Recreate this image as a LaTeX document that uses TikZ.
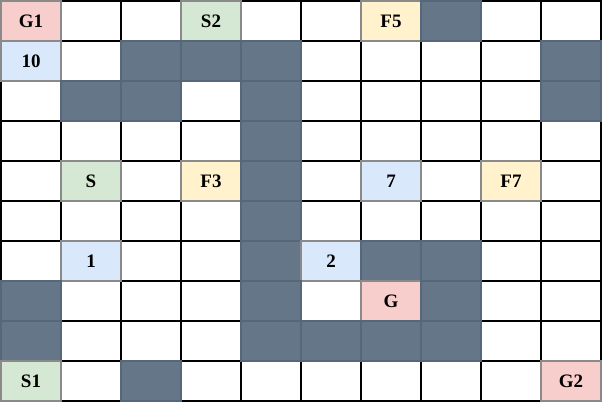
\documentclass[tikz,border=0pt]{standalone}
\usepackage{fontspec}
\setmainfont{Liberation Serif}
\definecolor{pinkf}{HTML}{F8CECC}
\definecolor{greenf}{HTML}{D5E8D4}
\definecolor{bluef}{HTML}{DAE8FC}
\definecolor{yellowf}{HTML}{FFF2CC}
\definecolor{darkf}{HTML}{647687}
\definecolor{darkb}{HTML}{56677A}
\definecolor{greyb}{HTML}{8A8A8A}
\tikzset{
  cellbox/.style={minimum width=60pt,minimum height=40pt,inner sep=0pt,outer sep=0pt,
    font=\fontsize{19}{22}\selectfont\bfseries, line width=1.2pt},
  wcell/.style={cellbox,draw=black,fill=white},
  obst/.style={cellbox,draw=darkb,fill=darkf},
  pcell/.style={cellbox,draw=greyb,fill=pinkf},
  gcell/.style={cellbox,draw=greyb,fill=greenf},
  bcell/.style={cellbox,draw=greyb,fill=bluef},
  ycell/.style={cellbox,draw=greyb,fill=yellowf},
}
\newcommand{\gridcell}[4]{\node[#3] (cell-#1-#2) at ({31+60*#1 pt},{-21-40*#2 pt}) {#4};}
\begin{document}
\begin{tikzpicture}[x=1pt,y=1pt]
\useasboundingbox (0,0) rectangle (602,-402);
\fill[white] (0,0) rectangle (602,-402);
% white cells first
\foreach \c in {0,...,9}{\foreach \r in {0,...,9}{\gridcell{\c}{\r}{wcell}{}}}
% row 0
\gridcell{0}{0}{pcell}{G1}
\gridcell{3}{0}{gcell}{S2}
\gridcell{6}{0}{ycell}{F5}
\gridcell{7}{0}{obst}{}
% row 1
\gridcell{0}{1}{bcell}{10}
\gridcell{2}{1}{obst}{}
\gridcell{3}{1}{obst}{}
\gridcell{4}{1}{obst}{}
\gridcell{9}{1}{obst}{}
% row 2
\gridcell{1}{2}{obst}{}
\gridcell{2}{2}{obst}{}
\gridcell{4}{2}{obst}{}
\gridcell{9}{2}{obst}{}
% row 3
\gridcell{4}{3}{obst}{}
% row 4
\gridcell{1}{4}{gcell}{S}
\gridcell{3}{4}{ycell}{F3}
\gridcell{4}{4}{obst}{}
\gridcell{6}{4}{bcell}{7}
\gridcell{8}{4}{ycell}{F7}
% row 5
\gridcell{4}{5}{obst}{}
% row 6
\gridcell{1}{6}{bcell}{1}
\gridcell{4}{6}{obst}{}
\gridcell{5}{6}{bcell}{2}
\gridcell{6}{6}{obst}{}
\gridcell{7}{6}{obst}{}
% row 7
\gridcell{0}{7}{obst}{}
\gridcell{4}{7}{obst}{}
\gridcell{6}{7}{pcell}{G}
\gridcell{7}{7}{obst}{}
% row 8
\gridcell{0}{8}{obst}{}
\gridcell{4}{8}{obst}{}
\gridcell{5}{8}{obst}{}
\gridcell{6}{8}{obst}{}
\gridcell{7}{8}{obst}{}
% row 9
\gridcell{0}{9}{gcell}{S1}
\gridcell{2}{9}{obst}{}
\gridcell{9}{9}{pcell}{G2}
\end{tikzpicture}
\end{document}
